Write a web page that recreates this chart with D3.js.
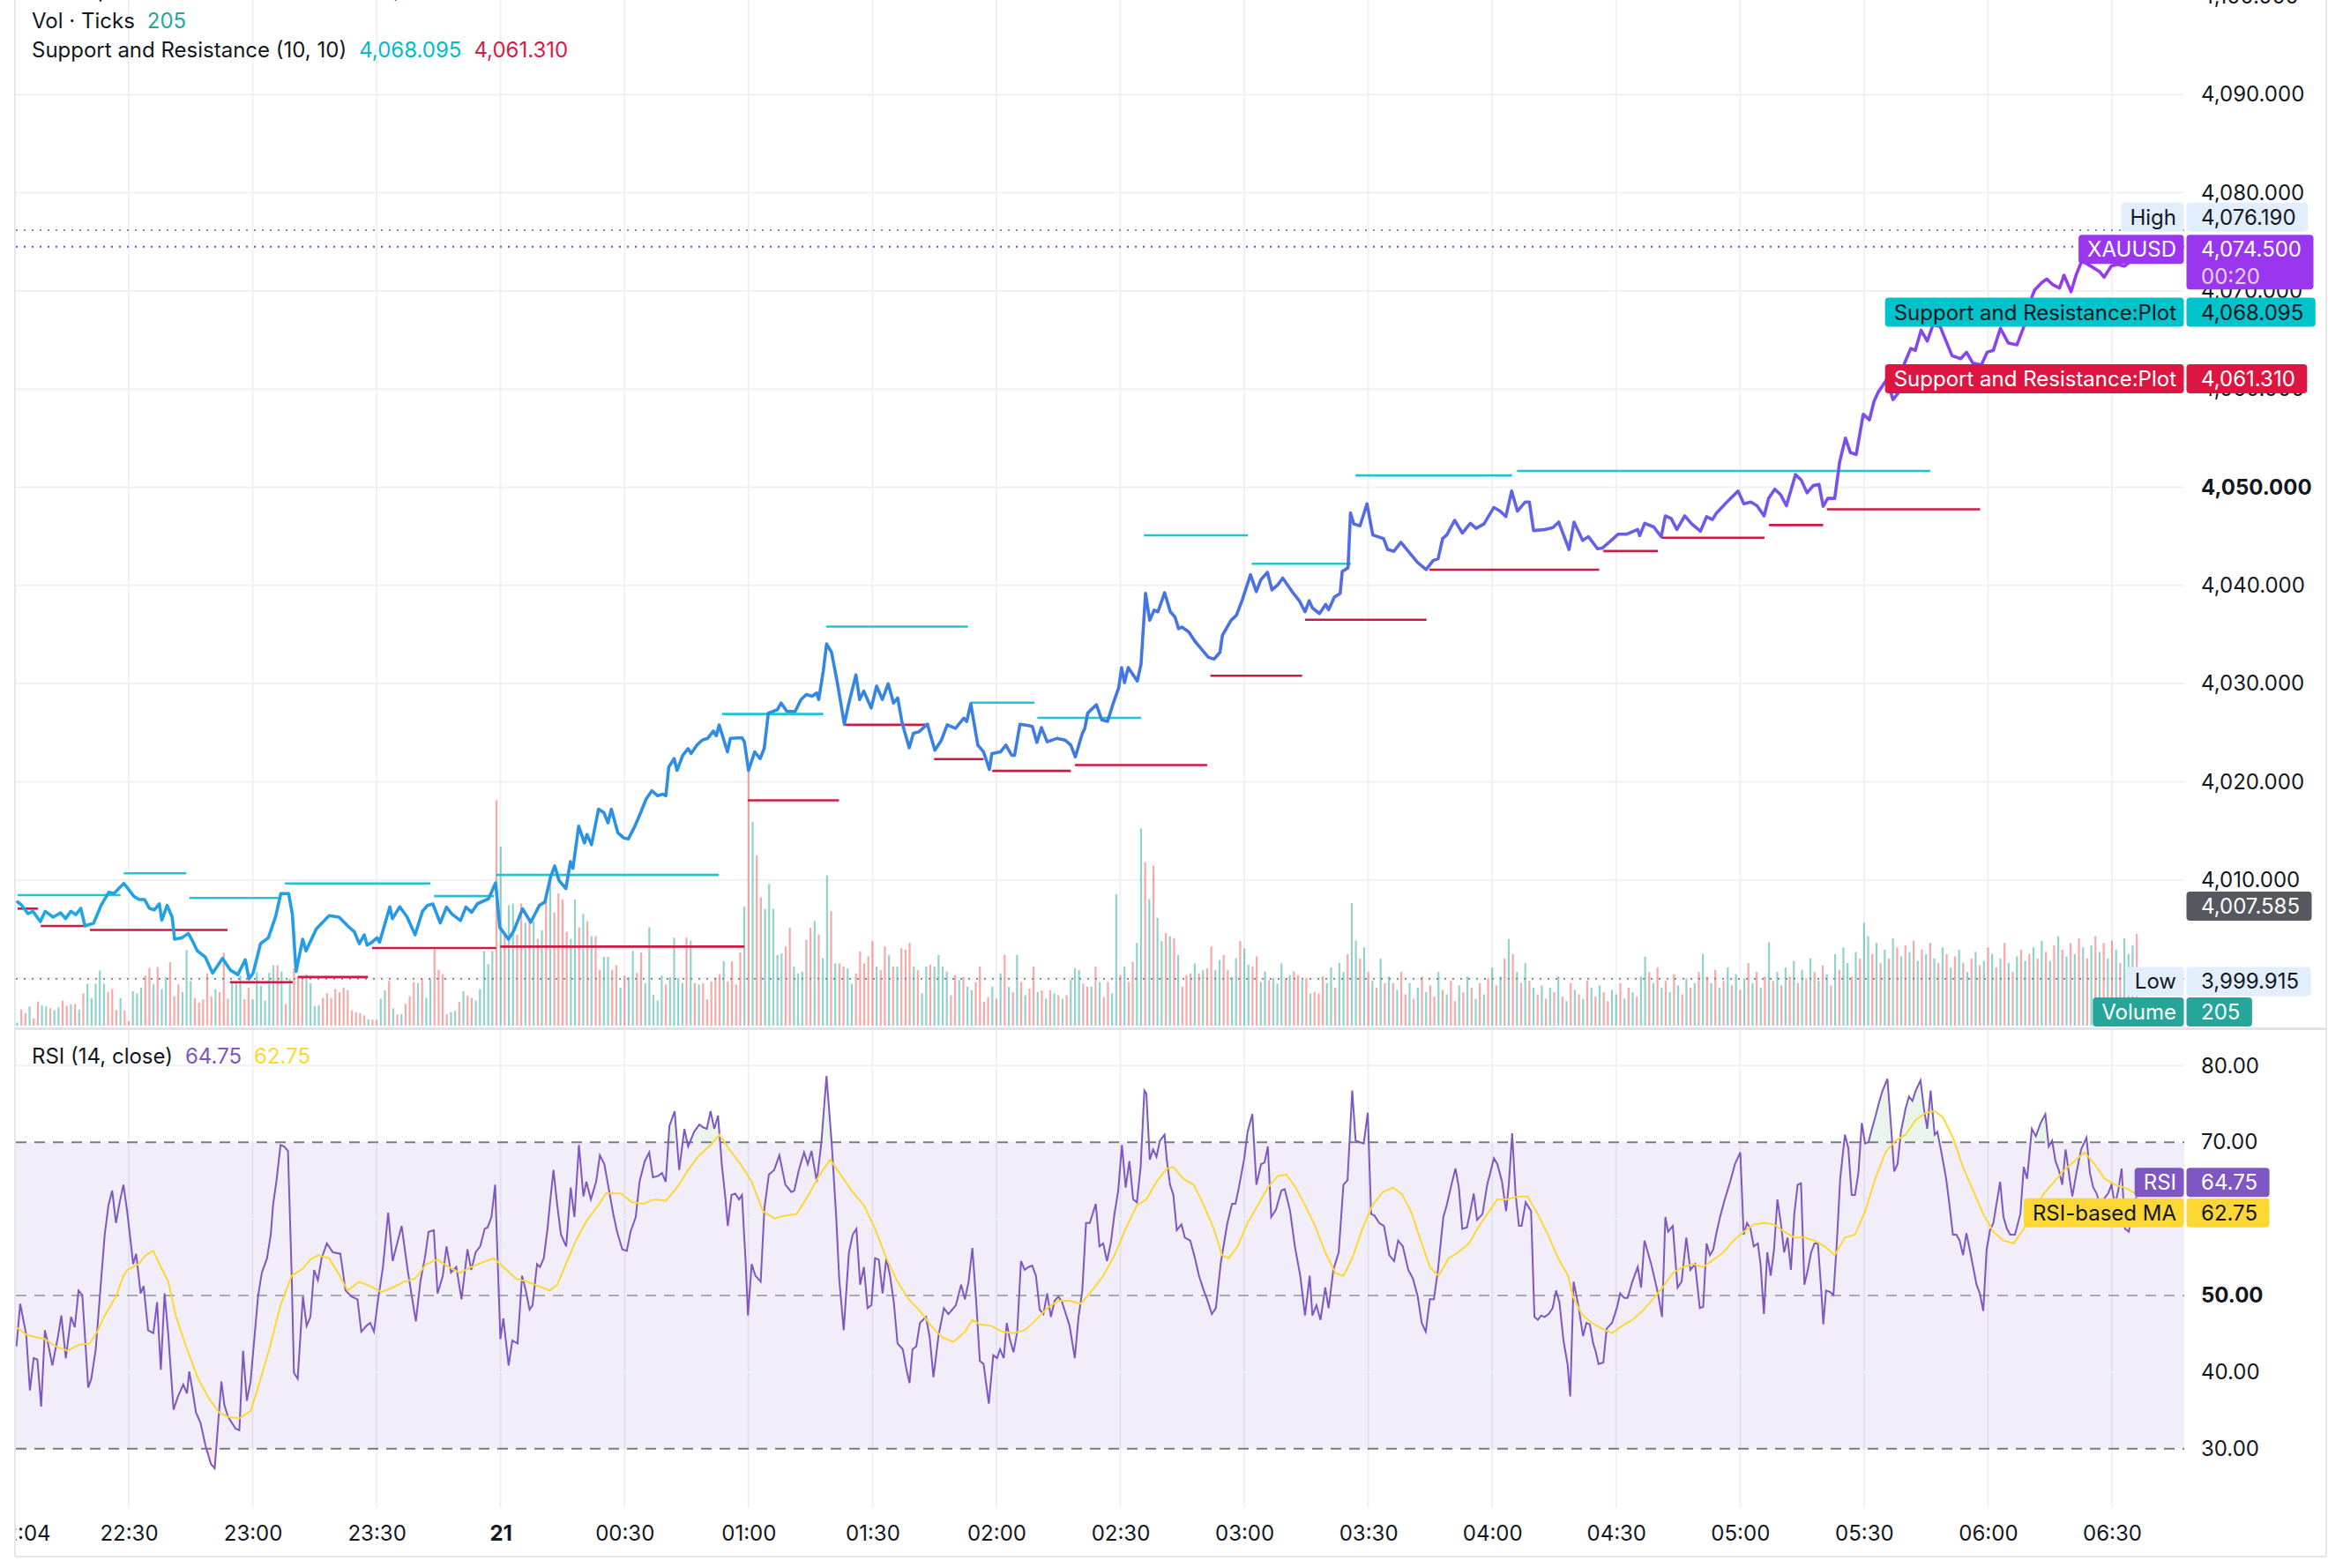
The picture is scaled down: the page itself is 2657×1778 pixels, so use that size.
<!DOCTYPE html>
<meta charset="utf-8">
<script src="https://d3js.org/d3.v7.min.js"></script>
<style>
  body { margin: 0; background: #ffffff; }
  svg text { font-family: Inter, "Noto Sans", sans-serif; }
</style>
<body>
<div id="chart"></div>
<script>
// ---- values; times are minutes after 20 Nov 22:00 ----

// close line [minute, price]
var closeLine = [
  [3.1,4007.75],[4.0,4007.46],[5.6,4006.56],[6.8,4006.80],[8.6,4005.75],[9.8,4006.80],[11.7,4006.20],[13.5,4006.65],
  [14.7,4006.05],[16.0,4006.80],[17.2,4006.45],[18.4,4007.10],[19.4,4005.30],[21.5,4005.60],[23.3,4007.40],[25.2,4008.75],
  [26.4,4008.60],[28.8,4009.64],[31.3,4008.30],[32.5,4008.00],[33.8,4008.00],[35.0,4007.10],[36.2,4006.95],[37.4,4007.55],
  [38.0,4005.90],[39.3,4007.40],[40.5,4006.20],[41.1,4003.95],[42.9,4004.10],[44.4,4004.55],[45.4,4003.80],[46.6,4002.76],
  [48.5,4002.15],[50.3,4000.50],[52.7,4002.00],[54.6,4000.80],[56.4,4000.35],[58.2,4001.85],[59.1,3999.92],[60.1,4000.50],
  [61.9,4003.50],[63.8,4004.10],[65.6,4006.35],[66.8,4008.60],[68.7,4008.60],[69.6,4006.50],[70.5,4000.66],[72.1,4003.95],
  [72.9,4002.76],[75.4,4005.00],[78.5,4006.35],[80.9,4006.20],[83.4,4005.15],[84.6,4004.70],[85.8,4003.50],[87.0,4004.40],
  [87.7,4003.35],[88.9,4003.65],[90.1,4004.10],[90.7,4003.65],[93.2,4007.25],[93.8,4006.05],[95.6,4007.25],[97.4,4006.20],
  [99.3,4004.40],[101.1,4006.80],[102.3,4007.40],[103.6,4007.55],[105.4,4005.60],[106.9,4007.22],[108.2,4006.53],[110.3,4005.85],
  [111.6,4007.22],[113.0,4006.70],[114.4,4007.57],[117.1,4008.08],[118.8,4009.70],[119.8,4005.16],[121.9,4003.95],[123.2,4004.82],
  [125.3,4007.05],[127.3,4005.68],[129.4,4007.40],[130.7,4007.74],[132.1,4010.30],[133.1,4011.42],[134.1,4009.97],[135.8,4009.11],
  [136.9,4011.86],[137.5,4011.18],[138.9,4015.47],[140.3,4013.76],[140.9,4014.62],[142.0,4013.59],[143.7,4017.20],[145.0,4016.85],
  [146.0,4015.81],[146.8,4017.20],[148.4,4014.79],[149.8,4014.27],[150.9,4014.17],[152.5,4015.47],[153.9,4016.85],[155.2,4018.22],
  [156.6,4019.08],[158.0,4018.57],[159.3,4018.74],[160.0,4018.57],[160.7,4021.49],[162.0,4022.35],[162.7,4021.15],[164.1,4022.70],
  [165.4,4023.38],[166.1,4022.87],[167.5,4023.73],[168.8,4024.24],[170.1,4024.41],[171.5,4025.17],[172.2,4024.69],[172.9,4025.79],
  [174.9,4023.04],[175.6,4024.41],[178.4,4024.48],[179.0,4024.07],[180.0,4021.15],[181.5,4023.04],[182.8,4022.35],[183.8,4023.38],
  [184.8,4026.99],[187.0,4027.34],[187.9,4028.02],[189.3,4027.16],[191.3,4027.16],[192.7,4028.37],[194.0,4028.89],[195.4,4028.71],
  [196.5,4029.05],[197.0,4028.37],[198.1,4031.29],[198.9,4034.04],[200.1,4033.18],[201.5,4030.09],[203.2,4025.86],[204.2,4027.85],
  [206.0,4030.88],[206.9,4028.37],[207.9,4029.23],[209.7,4027.51],[211.0,4029.74],[212.4,4028.37],[213.8,4029.98],[215.1,4028.02],
  [216.1,4028.54],[217.2,4025.97],[218.9,4023.45],[219.9,4024.93],[221.3,4025.10],[223.3,4025.86],[225.1,4023.21],[226.7,4024.24],
  [228.1,4025.79],[230.1,4025.44],[232.1,4026.48],[232.8,4026.14],[233.8,4027.93],[235.5,4023.73],[236.9,4023.04],[238.3,4021.25],
  [238.9,4022.87],[241.0,4023.04],[242.3,4023.73],[243.7,4022.70],[244.4,4022.70],[245.7,4025.86],[247.8,4025.72],[248.7,4025.62],
  [249.8,4024.00],[250.9,4025.51],[252.3,4024.07],[254.6,4024.41],[256.6,4024.24],[258.0,4023.73],[259.1,4022.53],[260.8,4024.93],
  [261.4,4025.44],[262.1,4026.99],[264.2,4027.85],[265.5,4026.30],[266.9,4026.14],[268.3,4028.02],[269.6,4029.57],[270.3,4031.63],
  [271.0,4030.09],[271.9,4031.63],[274.1,4030.26],[275.0,4031.97],[276.1,4039.20],[277.1,4036.45],[278.2,4037.48],[279.1,4037.31],
  [280.7,4039.26],[282.1,4037.31],[283.2,4036.79],[284.1,4035.59],[284.9,4035.76],[286.6,4035.25],[287.9,4034.39],[289.6,4033.52],
  [291.3,4032.67],[292.7,4032.50],[294.1,4033.18],[294.7,4034.91],[296.8,4036.45],[298.1,4036.96],[299.5,4038.51],[301.5,4041.09],
  [302.9,4039.37],[304.0,4040.58],[305.6,4041.33],[306.7,4039.54],[308.1,4040.06],[309.3,4040.75],[311.9,4039.18],[313.3,4038.44],
  [314.7,4037.32],[315.7,4038.44],[316.5,4037.69],[318.2,4037.13],[319.7,4038.07],[320.4,4037.51],[321.8,4038.81],[323.2,4039.18],
  [323.7,4041.42],[325.1,4041.79],[325.7,4047.38],[326.5,4046.26],[328.0,4046.07],[329.7,4048.31],[331.1,4045.14],[333.7,4044.77],
  [334.7,4043.66],[336.2,4043.47],[337.9,4044.40],[339.7,4043.47],[341.9,4042.35],[344.0,4041.61],[345.7,4042.53],[346.9,4042.72],
  [348.0,4044.77],[349.0,4045.14],[350.9,4046.63],[352.8,4045.33],[354.7,4046.33],[356.1,4045.81],[358.0,4046.26],[360.4,4047.94],
  [361.9,4047.57],[363.3,4047.01],[364.7,4049.61],[366.1,4047.57],[368.0,4048.50],[369.0,4048.50],[370.0,4045.59],[372.9,4045.70],
  [374.7,4045.89],[376.1,4046.45],[378.6,4043.66],[379.8,4046.45],[381.9,4044.58],[383.3,4044.96],[385.5,4043.73],[386.6,4043.80],
  [388.3,4044.40],[390.5,4045.22],[392.6,4045.22],[395.2,4045.70],[395.7,4045.07],[396.9,4046.33],[399.1,4045.96],[400.9,4044.96],
  [401.9,4047.08],[403.3,4046.82],[404.7,4045.70],[406.6,4047.08],[408.3,4046.26],[410.4,4045.52],[411.9,4047.01],[413.3,4046.71],
  [414.3,4047.38],[416.8,4048.50],[419.5,4049.61],[420.9,4048.31],[422.6,4048.50],[424.1,4048.12],[425.8,4047.08],[426.9,4048.87],
  [428.4,4049.80],[429.8,4049.24],[431.2,4048.12],[433.4,4051.29],[434.8,4050.73],[436.2,4049.43],[437.7,4050.17],[439.1,4050.29],
  [440.1,4048.05],[441.2,4048.87],[442.9,4048.87],[444.1,4052.60],[445.5,4055.01],[446.7,4053.52],[448.1,4053.34],[449.8,4057.44],
  [451.3,4056.87],[452.4,4058.74],[453.4,4059.67],[455.5,4060.98],[457.0,4058.93],[458.4,4059.67],[459.8,4062.65],[461.3,4064.14],
  [462.4,4063.95],[463.8,4066.00],[465.3,4064.89],[466.7,4066.56],[468.4,4066.38],[471.3,4063.40],[473.4,4063.10],[474.8,4063.76],
  [476.3,4062.65],[478.4,4062.46],[479.8,4063.76],[481.3,4063.95],[483.0,4066.19],[484.9,4064.70],[487.0,4064.51],[488.7,4066.38],
  [489.9,4068.61],[491.3,4070.10],[493.0,4070.84],[494.2,4071.22],[495.6,4070.66],[497.3,4070.29],[498.4,4071.59],[500.1,4069.92],
  [501.3,4071.59],[502.7,4073.08],[504.9,4072.52],[507.0,4071.97],[508.1,4071.40],[509.8,4072.52],[511.3,4072.70],[513.0,4072.52],
  [514.2,4072.90],[516.0,4074.50]
];

// Support and Resistance (10, 10) plot segments
var resistance = [
  {from: 3.1, to: 28.0, level: 4008.45}, {from: 28.8, to: 43.9, level: 4010.67}, {from: 44.7, to: 66.2, level: 4008.15},
  {from: 67.8, to: 103.0, level: 4009.64}, {from: 103.9, to: 118.4, level: 4008.35}, {from: 118.9, to: 172.8, level: 4010.50},
  {from: 173.6, to: 198.1, level: 4026.90}, {from: 198.8, to: 233.1, level: 4035.80}, {from: 233.8, to: 249.2, level: 4028.05},
  {from: 249.9, to: 275.0, level: 4026.50}, {from: 275.7, to: 300.9, level: 4045.10}, {from: 301.8, to: 325.8, level: 4042.20},
  {from: 326.9, to: 364.8, level: 4051.20}, {from: 366.0, to: 466.0, level: 4051.66}, {from: 467.0, to: 516.0, level: 4068.095}
];
var support = [
  {from: 3.1, to: 8.0, level: 4007.07}, {from: 8.7, to: 19.7, level: 4005.30}, {from: 20.6, to: 53.9, level: 4004.90},
  {from: 54.5, to: 69.7, level: 3999.58}, {from: 70.9, to: 87.9, level: 4000.10}, {from: 88.9, to: 118.9, level: 4003.05},
  {from: 119.9, to: 179.0, level: 4003.20}, {from: 179.8, to: 201.9, level: 4018.10}, {from: 203.0, to: 223.7, level: 4025.80},
  {from: 224.9, to: 236.9, level: 4022.30}, {from: 239.0, to: 258.0, level: 4021.10}, {from: 259.0, to: 291.0, level: 4021.70},
  {from: 291.8, to: 314.0, level: 4030.80}, {from: 314.7, to: 344.1, level: 4036.50}, {from: 344.8, to: 385.9, level: 4041.60},
  {from: 386.9, to: 400.1, level: 4043.50}, {from: 401.0, to: 425.9, level: 4044.85}, {from: 427.0, to: 440.1, level: 4046.15},
  {from: 441.0, to: 478.1, level: 4047.75}, {from: 479.0, to: 516.0, level: 4061.31}
];

// volume in ticks, one bar per minute starting at minute 3; side: u = up bar, d = down bar
var volStart = 3;
var volume = [
  7,36,28,43,16,54,45,43,39,35, 41,56,44,48,48,36,72,94,62,94, 123,94,75,82,35,62,34,10,77,72,
  85,112,129,92,131,82,108,142,66,92, 75,169,99,62,51,59,117,66,82,75, 163,60,99,97,112,59,85,59,120,89,
  56,118,135,135,121,48,105,128,108,102, 115,95,44,46,62,72,62,82,75,85, 79,34,30,28,23,14,13,13,60,79,
  100,39,25,26,49,66,97,95,105,62, 104,171,125,115,26,30,33,53,77,67, 62,56,82,167,138,167,504,400,207,269,
  273,204,273,230,236,233,194,213,289,322, 253,296,282,210,194,282,220,250,233,200, 200,125,154,154,125,135,85,112,108,167,
  118,164,95,220,69,56,112,92,108,197, 106,95,197,190,95,92,95,59,99,108, 115,144,99,144,92,164,266,
  569,456,381,287,261,317,261,158,162,177, 219,132,117,121,192,219,234,204,151,336, 256,139,139,132,128,94,117,166,139,155,
  189,132,124,177,158,132,132,173,170,185, 132,124,72,132,136,132,158,132,121,68, 113,102,109,87,79,98,132,53,64,87,
  60,117,158,87,75,158,98,68,83,132, 75,79,60,79,72,68,60,68,102,128, 124,94,87,87,132,98,64,98,72,294,
  113,132,98,143,185,441,366,283,358,241, 189,207,200,196,158,87,113,117,139,117, 124,128,177,124,147,158,124,109,151,189,
  173,136,132,155,98,121,102,106,94,139, 106,113,121,113,102,106,72,75,72,
  110,95,130,85,140,120,160, 274, 190,150,175,120,100,85,150,95,110,
  95,80,120,70,95,60,85,110,75,90,65,120,80,70,100,55,90,75,110,85,60,95,70,105,
  130,90,110,150,194,160,120,95,140,100,85,
  70,90,60,85,75,110,65,55,95,80,70,60,100,85,65,90,75,55,80,70,95,60,85,75,65,
  110,154,120,95,130,85,100,75,115,90,70,105,85,95,120,
  160,110,95,125,85,100,130,90,115,80,105,140,95,120,85,110,187,100,120,90,
  130,110,145,95,125,105,150,120,100,135,115,90,160,125,175,140,110,165,150, 230,
  200,160,185,140,170,150,195,175,155,180,165,190,145,170,160,185,150,140,175,160,
  130,155,170,140,120,150,165,135,145,175,160,130,150,185,140,120,155,170,145,160,
  175,150,190,165,145,180,200,170,155,185,160,195,175,150,180,200,165,185,150,190,170,140,195,160,180, 205
];
var volSide = [
  "uddudduudu","uddududuuu","uudddudduu","udduduuddd","uuudddddud","dduuudduuu","uuudududdd","uuuudddddd",
  "dddddudduu","dududddudu","udddduudud","duuuuududu","uddudududu","dddduududu","dduudduduu","dduuuuuduu",
  "uudududddd","duddddu",
  "dudduuuuud","duuudduduu","dudduudddd","duddududdd","uduuduuuud","duduuddddu","dududududd","ududududuu",
  "uddududduu","dudduududu","udududddud","udduudduud","uudduuduuu","duddududd",
  "duuduud","u","ududududu","duddudududdududdudududud","udududududu","dududududududududduududud",
  "uududududududud","udududududududududud","udududududududuudud","u","udududududududududud",
  "udududududududududud","udududududududududududuu","u"
].join("");

// RSI (14, close) [minute, value]
var rsiLine = [
  [2.82,43.36],[3.73,48.93],[5.18,44.90],[6.08,37.61],[6.99,41.83],[7.89,41.64],[8.80,35.50],[9.70,45.47],[10.61,43.36],
  [11.51,40.87],[12.96,44.90],[13.68,47.39],[14.77,41.83],[16.04,47.20],[16.94,45.86],[17.85,50.65],[18.75,50.08],[20.20,37.99],
  [20.93,39.14],[22.01,42.98],[23.28,51.80],[24.18,57.94],[25.09,61.78],[25.99,63.69],[26.90,59.47],[27.80,62.16],[28.71,64.46],
  [29.61,61.01],[30.52,56.79],[31.06,54.10],[31.79,55.45],[32.87,50.27],[33.60,51.23],[34.68,45.47],[35.95,45.09],[36.86,49.12],
  [37.76,40.30],[38.67,50.27],[39.57,44.90],[40.84,35.12],[41.92,36.84],[43.19,38.38],[44.10,37.23],[44.64,40.10],[45.55,37.23],
  [46.27,34.73],[47.36,33.39],[48.62,30.32],[49.89,28.02],[50.80,27.45],[51.70,33.77],[52.42,38.76],[53.15,35.69],[54.05,34.16],
  [54.96,33.39],[55.86,32.62],[56.77,32.43],[57.67,42.79],[58.58,36.27],[59.48,38.76],[60.39,44.32],[61.29,49.88],[62.20,52.95],
  [63.47,54.87],[64.37,57.94],[64.92,61.78],[65.82,65.23],[66.73,69.64],[67.63,69.45],[68.54,68.87],[69.44,52.57],[69.98,39.91],
  [70.89,39.14],[72.16,49.88],[73.06,46.05],[73.97,47.20],[74.87,53.34],[75.78,51.99],[76.68,54.87],[77.95,56.79],[79.40,55.64],
  [81.21,55.45],[82.47,50.65],[83.92,49.88],[85.37,49.50],[86.28,45.28],[87.54,46.05],[88.45,46.43],[89.35,45.28],[90.26,49.12],
  [91.53,53.72],[92.79,60.82],[93.88,54.49],[94.78,56.41],[96.05,59.09],[97.50,53.34],[98.40,50.27],[99.49,46.62],[100.58,51.80],
  [101.66,54.87],[102.57,58.32],[103.84,58.52],[104.74,50.27],[106.01,52.57],[106.91,56.41],[108.00,53.00],[109.27,53.72],
  [110.54,49.50],[111.98,56.02],[112.89,53.34],[113.97,55.64],[115.06,56.41],[116.15,58.71],[116.87,58.90],[117.78,60.24],
  [118.68,64.46],[119.22,55.64],[119.95,44.32],[120.67,47.01],[121.94,40.87],[122.84,44.13],[124.11,43.75],[125.20,52.57],
  [126.10,50.65],[127.01,48.16],[127.73,48.73],[128.82,54.10],[129.54,53.72],[130.45,54.87],[131.35,58.71],[131.90,61.78],
  [132.80,66.38],[133.71,61.78],[134.61,57.94],[135.88,56.41],[136.96,64.08],[137.87,60.24],[138.96,69.64],[140.04,62.93],
  [140.77,64.84],[141.85,62.54],[143.12,64.84],[144.02,68.30],[145.11,67.15],[146.38,63.31],[147.28,60.62],[148.19,58.32],
  [149.46,56.02],[150.54,55.83],[151.45,58.32],[152.71,60.24],[153.62,64.84],[154.89,67.53],[155.97,68.68],[156.88,65.42],
  [158.15,65.61],[159.05,65.99],[159.96,64.84],[160.86,72.13],[162.13,74.05],[163.22,66.38],[164.48,71.75],[165.39,69.45],
  [166.84,71.37],[168.10,72.32],[169.01,71.94],[169.91,71.75],[170.82,74.05],[171.72,71.75],[172.63,73.48],[173.53,67.15],
  [174.44,62.54],[174.98,59.09],[175.89,63.12],[176.79,63.31],[177.70,62.54],[178.42,63.12],[179.33,54.10],[179.87,47.39],
  [180.77,54.10],[181.68,52.57],[182.95,51.80],[183.85,61.39],[184.94,65.80],[186.21,66.38],[187.47,68.30],[188.92,64.46],
  [190.37,63.50],[191.09,63.69],[192.18,66.38],[193.44,68.68],[194.35,67.15],[195.26,68.87],[196.52,64.84],[197.61,69.83],
  [198.88,78.65],[200.14,69.83],[201.23,60.24],[201.95,52.19],[203.04,45.47],[204.31,55.64],[205.21,57.94],[206.12,58.71],
  [207.02,51.42],[207.93,53.72],[208.83,48.35],[209.74,48.73],[210.64,54.87],[211.55,54.68],[212.45,50.27],[213.36,54.87],
  [214.26,52.57],[215.17,49.12],[216.07,43.75],[217.34,42.98],[218.25,40.30],[218.97,38.57],[219.69,42.98],[220.60,43.36],
  [221.50,46.43],[222.95,47.20],[223.86,44.51],[224.76,39.34],[226.03,44.90],[227.30,48.35],[228.38,47.58],[230.19,48.73],
  [231.46,51.42],[232.37,49.50],[233.27,51.80],[234.18,56.21],[235.08,49.50],[235.99,41.45],[236.89,41.07],[238.16,35.88],
  [239.24,42.21],[240.15,41.83],[240.88,42.98],[241.78,41.83],[242.51,46.43],[243.23,44.32],[244.14,42.60],[245.04,45.28],
  [245.95,54.49],[246.85,53.34],[247.76,53.72],[248.66,53.91],[249.57,52.57],[250.47,48.16],[251.38,47.58],[252.28,50.27],
  [253.19,47.20],[254.09,49.31],[255.00,49.88],[255.90,49.12],[256.81,47.58],[257.71,46.05],[258.98,41.83],[259.88,47.20],
  [260.79,50.65],[261.70,59.47],[262.60,59.47],[264.05,61.97],[264.95,56.41],[265.86,56.79],[266.76,54.49],[267.67,56.79],
  [268.57,60.62],[269.48,63.69],[270.38,69.64],[271.29,64.08],[272.19,67.53],[273.10,62.54],[274.00,62.16],[274.91,66.76],
  [275.81,76.74],[276.30,76.35],[277.12,67.72],[277.93,69.06],[278.75,68.10],[279.57,70.21],[280.71,70.98],[281.20,67.91],
  [282.02,64.46],[282.83,63.12],[283.65,58.52],[284.79,59.28],[285.61,57.56],[286.92,57.17],[288.06,54.87],[289.04,52.57],
  [290.18,50.65],[291.00,49.50],[292.14,47.58],[293.12,48.35],[294.27,54.10],[295.08,56.79],[295.90,59.47],[297.04,61.97],
  [297.86,61.97],[298.68,64.08],[299.99,67.91],[300.80,71.37],[301.95,73.67],[302.93,64.46],[304.07,67.15],[304.89,67.34],
  [305.70,69.45],[306.52,60.24],[307.66,61.20],[308.97,63.69],[309.79,63.89],[311.09,61.01],[312.24,56.41],[313.54,52.57],
  [314.69,47.39],[315.83,52.57],[316.48,47.39],[317.46,48.73],[318.44,46.82],[319.59,51.04],[320.40,48.35],[321.55,53.34],
  [322.85,55.64],[323.99,64.46],[324.98,65.04],[326.12,76.74],[326.94,70.21],[327.92,70.02],[328.90,69.83],[329.88,73.86],
  [330.69,60.63],[331.51,60.43],[332.65,59.47],[333.80,59.09],[335.10,55.26],[336.25,54.49],[337.23,57.17],[338.37,56.41],
  [339.68,53.34],[340.82,52.19],[341.97,49.88],[342.94,46.43],[343.92,45.28],[344.91,49.50],[345.89,49.50],[346.87,53.34],
  [348.17,60.24],[348.99,61.78],[350.13,64.46],[351.11,66.57],[351.93,64.08],[352.75,58.71],[353.89,58.90],[354.71,61.01],
  [355.52,63.31],[356.34,59.86],[357.65,60.63],[358.79,64.46],[360.42,67.91],[361.24,67.15],[362.38,64.84],[363.36,61.01],
  [364.02,64.46],[364.83,71.17],[365.65,63.31],[366.47,59.09],[367.12,59.09],[368.10,62.16],[369.41,61.01],[370.22,47.20],
  [371.04,46.82],[371.86,47.39],[372.67,47.20],[373.65,47.58],[374.63,48.35],[375.45,50.65],[376.27,49.12],[377.25,44.13],
  [378.23,41.06],[378.88,36.84],[379.70,51.80],[380.84,48.73],[381.99,44.71],[382.80,46.43],[383.62,46.24],[384.44,43.75],
  [385.09,42.60],[385.74,41.06],[386.89,41.25],[387.70,45.67],[389.01,46.43],[390.15,48.35],[390.97,50.27],[391.95,49.69],
  [392.77,49.69],[393.91,51.80],[395.22,53.72],[396.03,51.04],[396.85,57.17],[397.67,55.64],[398.48,54.10],[399.30,52.19],
  [400.12,50.27],[401.10,47.20],[401.91,60.24],[402.57,58.32],[403.71,59.09],[404.86,51.04],[405.83,51.80],[406.98,57.56],
  [407.96,53.34],[409.10,54.10],[410.24,48.35],[411.06,48.54],[411.88,56.79],[412.69,55.26],[413.51,56.02],[414.33,58.32],
  [415.14,60.24],[416.29,62.54],[417.60,64.84],[418.74,67.15],[420.05,68.68],[420.86,57.94],[421.68,59.47],[422.50,58.71],
  [423.31,56.41],[424.29,56.79],[424.95,54.10],[425.76,47.58],[426.58,55.64],[427.40,52.57],[428.21,56.02],[429.03,62.54],
  [429.85,59.47],[430.66,55.64],[431.48,57.56],[432.30,53.34],[433.11,60.63],[433.93,64.46],[434.74,64.65],[435.56,51.42],
  [436.38,53.34],[437.19,55.64],[438.01,56.79],[438.83,56.79],[439.64,50.65],[440.13,46.24],[440.79,50.65],[441.77,50.46],
  [442.59,50.08],[443.40,56.79],[444.22,65.23],[445.37,70.98],[446.18,69.26],[447.00,63.12],[447.81,63.12],[448.63,65.99],
  [449.45,72.52],[450.26,69.83],[451.08,70.02],[451.90,71.75],[452.71,73.28],[453.53,75.01],[454.35,76.54],[455.65,78.27],
  [456.47,72.52],[457.29,66.19],[458.10,67.15],[458.92,71.37],[460.06,74.43],[460.88,75.97],[461.70,75.39],[462.51,76.74],
  [463.66,78.08],[464.48,74.43],[465.29,71.75],[466.11,76.74],[467.09,70.98],[467.74,71.37],[468.72,68.68],[469.87,65.23],
  [470.68,61.78],[471.50,57.94],[472.32,57.94],[473.13,57.17],[473.95,55.26],[474.77,58.13],[475.58,56.02],[476.40,53.72],
  [477.22,51.42],[478.03,50.27],[478.85,47.97],[479.67,56.02],[480.48,58.52],[481.30,59.47],[482.12,62.16],[482.93,64.84],
  [483.75,60.24],[484.57,58.71],[485.38,57.94],[486.52,57.94],[487.83,60.63],[488.65,66.76],[489.46,65.23],[490.61,71.75],
  [491.59,70.79],[492.73,72.52],[493.88,73.67],[494.69,69.45],[495.51,70.21],[496.33,67.53],[497.14,66.38],[497.96,64.46],
  [498.78,69.06],[499.76,65.23],[500.41,62.93],[501.39,65.99],[502.54,69.06],[503.84,70.60],[504.66,65.99],[505.48,64.08],
  [506.29,63.31],[507.11,61.78],[507.93,62.54],[509.07,63.31],[509.89,64.46],[510.70,61.78],[511.52,63.69],[512.34,66.57],
  [513.15,58.71],[514.07,58.32],[514.79,60.24],[515.93,62.93],[516.30,64.75]
];

// RSI-based MA [minute, value]
var rsiMa = [
  [2.82,45.86],[5.18,44.90],[7.89,44.51],[9.70,44.32],[12.42,43.36],[15.13,42.79],[17.85,43.55],[20.56,43.75],[22.37,45.28],
  [24.18,47.39],[26.90,49.88],[28.71,52.57],[29.61,53.34],[32.33,54.10],[34.14,55.26],[35.95,55.83],[37.76,53.72],[39.57,51.80],
  [41.38,47.39],[44.10,42.98],[46.81,39.14],[49.52,36.46],[51.88,34.73],[54.05,34.16],[56.77,33.97],[59.48,34.92],[61.29,37.99],
  [64.01,42.98],[66.73,48.73],[69.44,52.57],[72.16,53.53],[73.97,54.68],[75.78,55.26],[78.49,54.87],[80.66,52.95],[83.02,50.65],
  [85.73,51.80],[88.45,51.23],[91.16,50.46],[93.88,51.04],[96.59,51.80],[99.31,52.19],[102.02,54.10],[104.74,54.68],[107.45,53.72],
  [110.17,52.95],[112.89,53.72],[115.60,54.30],[118.32,54.87],[121.03,53.53],[123.75,52.19],[126.46,51.80],[129.18,51.23],
  [131.90,50.65],[133.71,51.42],[136.42,54.87],[138.23,57.17],[140.94,59.86],[143.66,61.78],[145.47,63.31],[149.10,63.31],
  [151.81,62.16],[154.53,61.97],[157.24,62.54],[159.96,62.35],[162.67,64.08],[165.39,66.38],[168.10,68.30],[170.82,69.64],
  [172.99,70.98],[175.35,69.06],[178.06,67.15],[180.77,64.84],[183.49,61.01],[186.21,60.05],[188.92,60.43],[191.63,60.63],
  [194.35,62.93],[197.06,65.61],[199.78,67.72],[202.49,65.61],[205.21,63.50],[207.93,61.78],[210.64,58.71],[213.36,54.87],
  [216.07,51.80],[218.79,49.50],[221.50,47.97],[224.21,46.05],[226.93,44.51],[229.64,43.94],[232.37,45.28],[234.18,46.82],
  [235.99,46.24],[238.71,46.05],[241.42,45.28],[244.14,45.09],[246.85,45.47],[249.57,46.82],[252.28,48.35],[255.00,49.31],
  [257.71,49.31],[260.43,48.93],[263.14,50.65],[265.86,52.57],[268.57,55.26],[271.29,58.71],[274.00,61.78],[276.30,62.54],
  [278.75,64.84],[281.20,66.57],[282.83,66.76],[285.28,65.23],[287.73,64.46],[290.18,61.78],[292.63,58.71],[294.59,55.26],
  [296.23,54.87],[298.35,56.41],[300.80,59.47],[303.25,61.78],[305.70,64.08],[308.15,65.61],[310.11,65.80],[312.24,64.27],
  [314.69,61.78],[317.14,59.09],[319.59,55.64],[322.04,52.95],[324.00,52.57],[326.12,54.87],[328.57,58.71],[331.02,61.78],
  [333.47,63.50],[335.92,64.08],[338.05,63.31],[340.33,61.01],[342.45,57.56],[344.91,53.72],[347.03,52.57],[349.48,54.87],
  [351.77,55.64],[354.38,56.79],[356.83,59.09],[359.28,61.01],[361.24,62.54],[363.69,62.54],[366.14,62.93],[368.59,62.93],
  [371.04,60.63],[373.49,57.94],[375.94,54.87],[378.39,52.57],[379.54,49.88],[381.66,47.58],[384.11,46.43],[386.56,45.67],
  [389.01,45.09],[391.46,46.05],[393.91,46.82],[396.36,47.97],[398.81,49.50],[401.26,51.04],[403.71,52.95],[406.16,53.72],
  [408.61,54.10],[411.06,53.72],[413.51,54.68],[415.96,55.64],[418.41,57.17],[420.86,58.32],[423.31,59.28],[425.76,59.47],
  [428.21,59.28],[430.66,58.32],[433.11,57.56],[435.56,57.56],[438.01,57.17],[440.46,56.41],[442.91,55.26],[445.37,57.56],
  [447.81,57.94],[450.26,61.01],[452.71,65.23],[455.16,68.68],[457.61,70.21],[460.06,70.98],[462.51,72.90],[464.96,73.86],
  [467.09,74.05],[469.05,73.28],[471.50,70.60],[473.95,66.76],[476.40,63.69],[478.85,60.63],[481.30,58.32],[483.75,57.17],
  [486.20,56.79],[488.65,58.71],[491.10,61.01],[493.55,63.31],[496.00,64.84],[498.45,66.38],[500.90,67.53],[503.35,68.68],
  [505.80,67.15],[508.25,65.23],[510.70,64.46],[513.15,64.08],[515.60,63.31],[516.30,62.75]
];

var priceTicks = [4000, 4010, 4020, 4030, 4040, 4050, 4060, 4070, 4080, 4090, 4100];
var rsiTicks = [30, 40, 50, 60, 70, 80];
var rsiDashed = [70, 50, 30];

// right-scale labels
var last = {price: 4074.5, countdown: "00:20"};
var high = 4076.19, low = 3999.915, greyMark = 4007.585;
var srLast = {resistance: 4068.095, support: 4061.31};
var lastVolume = 205, lastRsi = 64.75, lastMa = 62.75;

// ---- layout ----
var width = 2657, height = 1778;
var left = 18, right = 2477;
var paneBottom = 1165, rsiTop = 1168, rsiBottom = 1710;
var ink = "#131722", gridColor = "#eff1f4";
var fontSize = 24;

var base = new Date(2025, 10, 20, 22, 0);
function at(m) { return new Date(base.getTime() + m * 60000); }

var x = d3.scaleTime().domain([at(2.68), at(527.5)]).range([left, right]);
var y = d3.scaleLinear().domain([3994.97, 4099.64]).range([paneBottom, 0]);
var yVol = d3.scaleLinear().domain([0, 1000]).range([1163, 656]);
var yRsi = d3.scaleLinear().domain([22.27, 84.64]).range([rsiBottom, rsiTop]);

var svg = d3.select("#chart").append("svg")
  .attr("width", width).attr("height", height)
  .style("font-size", fontSize + "px");

svg.append("rect").attr("width", width).attr("height", height).attr("fill", "#ffffff");

var defs = svg.append("defs");
defs.append("clipPath").attr("id", "pricePane").append("rect")
  .attr("x", left).attr("y", 0).attr("width", right - left).attr("height", paneBottom);
defs.append("clipPath").attr("id", "rsiPane").append("rect")
  .attr("x", left).attr("y", rsiTop).attr("width", right - left).attr("height", rsiBottom - rsiTop);
defs.append("clipPath").attr("id", "overBought").append("rect")
  .attr("x", left).attr("y", rsiTop).attr("width", right - left).attr("height", yRsi(70) - rsiTop);
defs.append("clipPath").attr("id", "overSold").append("rect")
  .attr("x", left).attr("y", yRsi(30)).attr("width", right - left).attr("height", rsiBottom - yRsi(30));
defs.append("clipPath").attr("id", "timeClip").append("rect")
  .attr("x", left).attr("y", rsiBottom).attr("width", right - left).attr("height", 60);

var grad = defs.append("linearGradient").attr("id", "lineGrad")
  .attr("gradientUnits", "userSpaceOnUse")
  .attr("x1", x(at(3))).attr("x2", x(at(516))).attr("y1", 0).attr("y2", 0);
[["0%", "#1fa7e6"], ["30%", "#2b8fe6"], ["55%", "#4574e3"], ["75%", "#6461e8"], ["90%", "#8249ee"], ["100%", "#9b36ef"]]
  .forEach(function(s) { grad.append("stop").attr("offset", s[0]).attr("stop-color", s[1]); });

// ---- grid ----
var timeTicks = d3.timeMinute.every(30).range(at(30), at(520));
svg.append("g").selectAll("line").data(timeTicks).join("line")
  .attr("x1", function(d) { return x(d); }).attr("x2", function(d) { return x(d); })
  .attr("y1", 0).attr("y2", rsiBottom)
  .attr("stroke", gridColor).attr("stroke-width", 2);

svg.append("g").selectAll("line").data(priceTicks).join("line")
  .attr("x1", left).attr("x2", right)
  .attr("y1", function(d) { return y(d); }).attr("y2", function(d) { return y(d); })
  .attr("stroke", gridColor).attr("stroke-width", 2);

// RSI band and grid
svg.append("rect").attr("x", left).attr("width", right - left)
  .attr("y", yRsi(70)).attr("height", yRsi(30) - yRsi(70))
  .attr("fill", "rgba(126,87,194,0.1)");
svg.append("g").selectAll("line").data([80, 60, 40]).join("line")
  .attr("x1", left).attr("x2", right)
  .attr("y1", function(d) { return yRsi(d); }).attr("y2", function(d) { return yRsi(d); })
  .attr("stroke", gridColor).attr("stroke-width", 2);
svg.append("g").selectAll("line").data(rsiDashed).join("line")
  .attr("x1", left).attr("x2", right)
  .attr("y1", function(d) { return yRsi(d); }).attr("y2", function(d) { return yRsi(d); })
  .attr("stroke", function(d) { return d === 50 ? "rgba(120,123,134,0.6)" : "#787b86"; })
  .attr("stroke-width", 2).attr("stroke-dasharray", "12,9");

// ---- price pane ----
var price = svg.append("g").attr("clip-path", "url(#pricePane)");

price.append("g").selectAll("rect").data(volume).join("rect")
  .attr("x", function(d, i) { return x(at(volStart + i)) - 1.1; })
  .attr("width", 2.2)
  .attr("y", function(d) { return yVol(d); })
  .attr("height", function(d) { return yVol(0) - yVol(d); })
  .attr("fill", function(d, i) { return volSide[i] === "u" ? "rgba(38,166,154,0.5)" : "rgba(239,83,80,0.5)"; });

function dotted(v, color) {
  price.append("line").attr("x1", left).attr("x2", right)
    .attr("y1", y(v)).attr("y2", y(v))
    .attr("stroke", color).attr("stroke-width", 2).attr("stroke-dasharray", "2,7");
}
dotted(high, "#8a8d96");
dotted(low, "#8a8d96");
dotted(last.price, "#9b36ef");

price.append("g").selectAll("line").data(resistance).join("line")
  .attr("x1", function(d) { return x(at(d.from)); }).attr("x2", function(d) { return x(at(d.to)); })
  .attr("y1", function(d) { return y(d.level); }).attr("y2", function(d) { return y(d.level); })
  .attr("stroke", "#1fc6d2").attr("stroke-width", 2.6);
price.append("g").selectAll("line").data(support).join("line")
  .attr("x1", function(d) { return x(at(d.from)); }).attr("x2", function(d) { return x(at(d.to)); })
  .attr("y1", function(d) { return y(d.level); }).attr("y2", function(d) { return y(d.level); })
  .attr("stroke", "#cc1a45").attr("stroke-width", 2.6);

price.append("path").datum(closeLine)
  .attr("d", d3.line().x(function(d) { return x(at(d[0])); }).y(function(d) { return y(d[1]); }))
  .attr("fill", "none").attr("stroke", "url(#lineGrad)").attr("stroke-width", 3.6)
  .attr("stroke-linejoin", "round").attr("stroke-linecap", "round");

// ---- RSI pane ----
var rsi = svg.append("g").attr("clip-path", "url(#rsiPane)");
var rsiX = function(d) { return x(at(d[0])); };
rsi.append("g").attr("clip-path", "url(#overBought)").append("path").datum(rsiLine)
  .attr("d", d3.area().x(rsiX).y0(yRsi(70)).y1(function(d) { return yRsi(d[1]); }))
  .attr("fill", "rgba(76,175,80,0.12)");
rsi.append("g").attr("clip-path", "url(#overSold)").append("path").datum(rsiLine)
  .attr("d", d3.area().x(rsiX).y0(yRsi(30)).y1(function(d) { return yRsi(d[1]); }))
  .attr("fill", "rgba(242,54,69,0.12)");
rsi.append("path").datum(rsiLine)
  .attr("d", d3.line().x(rsiX).y(function(d) { return yRsi(d[1]); }))
  .attr("fill", "none").attr("stroke", "#7e57c2").attr("stroke-width", 2);
rsi.append("path").datum(rsiMa)
  .attr("d", d3.line().x(rsiX).y(function(d) { return yRsi(d[1]); }))
  .attr("fill", "none").attr("stroke", "#fdd835").attr("stroke-width", 2);

// ---- axes ----
var priceAxis = svg.append("g").attr("transform", "translate(" + right + ",0)")
  .call(d3.axisRight(y).tickValues(priceTicks).tickFormat(d3.format(",.3f")).tickSize(0).tickPadding(19));
var rsiAxis = svg.append("g").attr("transform", "translate(" + right + ",0)")
  .call(d3.axisRight(yRsi).tickValues(rsiTicks).tickFormat(d3.format(".2f")).tickSize(0).tickPadding(19));
[priceAxis, rsiAxis].forEach(function(a) {
  a.select(".domain").remove();
  a.selectAll("text").attr("fill", ink).style("font-size", fontSize + "px")
    .style("font-family", "Inter, 'Noto Sans', sans-serif");
});
priceAxis.selectAll("text").style("font-weight", function(d) { return d === 4050 ? 700 : 400; });
rsiAxis.selectAll("text").style("font-weight", function(d) { return d === 50 ? 700 : 400; });

var timeAxis = svg.append("g").attr("transform", "translate(0," + rsiBottom + ")")
  .call(d3.axisBottom(x).tickValues(timeTicks).tickSize(0)
    .tickFormat(function(d) { return d.getHours() === 0 && d.getMinutes() === 0 ? "21" : d3.timeFormat("%H:%M")(d); }));
timeAxis.select(".domain").remove();
timeAxis.selectAll("text").attr("y", 37).attr("dy", 0).attr("fill", ink)
  .style("font-size", fontSize + "px").style("font-family", "Inter, 'Noto Sans', sans-serif")
  .style("font-weight", function(d) { return d.getHours() === 0 && d.getMinutes() === 0 ? 700 : 400; });
// label of the first visible minute, cut by the pane edge
svg.append("g").attr("clip-path", "url(#timeClip)").append("text")
  .attr("x", x(at(4))).attr("y", rsiBottom + 37).attr("text-anchor", "middle").attr("fill", ink)
  .text("22:04");

// ---- right-scale tags ----
function tag(cy, name, value, fill, textFill, h) {
  h = h || 33;
  var top = cy - 16.5;
  var g = svg.append("g");
  if (name) {
    var nt = g.append("text").attr("x", 2468).attr("y", cy).attr("dy", "0.35em")
      .attr("text-anchor", "end").attr("fill", textFill).text(name);
    var nw = nt.node().getComputedTextLength();
    g.insert("rect", "text").attr("x", 2468 - nw - 10).attr("y", top)
      .attr("width", nw + 18.5).attr("height", 33).attr("rx", 4).attr("fill", fill);
  }
  var vt = g.append("text").attr("x", 2496).attr("y", cy).attr("dy", "0.35em")
    .attr("fill", textFill).text(value);
  var vw = vt.node().getComputedTextLength();
  g.insert("rect", "text").attr("x", 2479.5).attr("y", top)
    .attr("width", vw + 30).attr("height", h).attr("rx", 4).attr("fill", fill);
  return g;
}
var fmt3 = d3.format(",.3f");
var lastCy = y(last.price) + 3;
tag(lastCy - 36.5, "High", fmt3(high), "#e3eefc", ink);
var lastTag = tag(lastCy, "XAUUSD", fmt3(last.price), "#9b36ef", "#ffffff", 62);
lastTag.append("text").attr("x", 2496).attr("y", lastCy + 31).attr("dy", "0.35em")
  .attr("fill", "rgba(255,255,255,0.78)").text(last.countdown);
tag(y(srLast.resistance) + 3, "Support and Resistance:Plot", fmt3(srLast.resistance), "#00c3cb", ink);
tag(y(srLast.support) + 3, "Support and Resistance:Plot", fmt3(srLast.support), "#dd1641", "#ffffff");
tag(y(greyMark) + 3, null, fmt3(greyMark), "#56585f", "#ffffff");
var lowCy = y(low) + 3;
tag(lowCy, "Low", fmt3(low), "#e3eefc", ink);
tag(lowCy + 34.5, "Volume", String(lastVolume), "#26a69a", "#ffffff");
var rsiCy = yRsi(lastRsi);
tag(rsiCy, "RSI", lastRsi.toFixed(2), "#7e57c2", "#ffffff");
tag(rsiCy + 34.5, "RSI-based MA", lastMa.toFixed(2), "#fdd835", ink);

// ---- legends ----
var title = svg.append("text").attr("x", 36).attr("y", -3).attr("fill", ink);
title.append("tspan").text("Gold Spot / U.S. Dollar · 1 · OANDA   ");
title.append("tspan").attr("fill", "#9b36ef").text("4,074.500  +0.170 (+0.00%)");

var vol = svg.append("text").attr("x", 36).attr("y", 32).attr("fill", ink);
vol.append("tspan").text("Vol · Ticks");
vol.append("tspan").attr("dx", 14).attr("fill", "#26a69a").text(lastVolume);

var sr = svg.append("text").attr("x", 36).attr("y", 65).attr("fill", ink);
sr.append("tspan").text("Support and Resistance (10, 10)");
sr.append("tspan").attr("dx", 14).attr("fill", "#00bcc8").text(fmt3(srLast.resistance));
sr.append("tspan").attr("dx", 14).attr("fill", "#d81b45").text(fmt3(srLast.support));

var rl = svg.append("text").attr("x", 36).attr("y", 1206).attr("fill", ink);
rl.append("tspan").text("RSI (14, close)");
rl.append("tspan").attr("dx", 14).attr("fill", "#7e57c2").text(lastRsi.toFixed(2));
rl.append("tspan").attr("dx", 14).attr("fill", "#fdd835").text(lastMa.toFixed(2));

// ---- frame ----
var frame = "#e6e7ea";
svg.append("line").attr("x1", left - 1).attr("x2", left - 1).attr("y1", 0).attr("y2", 1765).attr("stroke", frame).attr("stroke-width", 2);
svg.append("line").attr("x1", 2638).attr("x2", 2638).attr("y1", 0).attr("y2", 1765).attr("stroke", frame).attr("stroke-width", 2);
svg.append("line").attr("x1", left - 1).attr("x2", 2638).attr("y1", 1765).attr("y2", 1765).attr("stroke", frame).attr("stroke-width", 2);
svg.append("line").attr("x1", left - 1).attr("x2", 2638).attr("y1", 1166.5).attr("y2", 1166.5).attr("stroke", "#e0e3eb").attr("stroke-width", 3);
</script>
</body>
